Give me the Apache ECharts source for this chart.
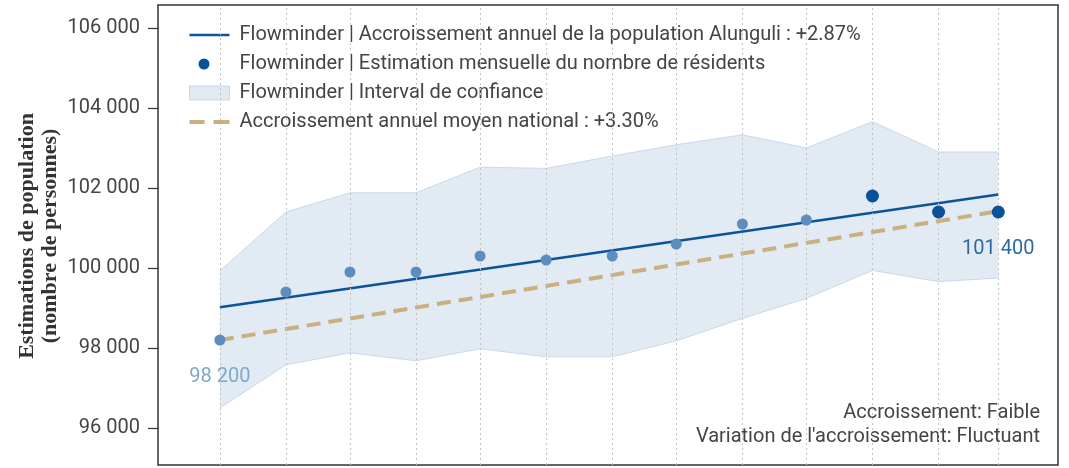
<!DOCTYPE html>
<html>
<head>
<meta charset="utf-8">
<script src="https://cdn.jsdelivr.net/npm/echarts@6/dist/echarts.min.js"></script>
<style>
  html, body { margin: 0; padding: 0; background: #fff; }
  #chart { width: 1069px; height: 468px; }
</style>
</head>
<body>
<div id="chart"></div>
<script>
// dates des estimations mensuelles
const dates = ['2021-03-01', '2021-04-01', '2021-05-01', '2021-06-01', '2021-07-01', '2021-08-01',
  '2021-09-01', '2021-10-01', '2021-11-01', '2021-12-01', '2022-01-01', '2022-02-01', '2022-03-01'];
// estimation mensuelle du nombre de residents
const estimates = [98200, 99400, 99900, 99900, 100300, 100200, 100300, 100600, 101100, 101200, 101800, 101400, 101400];
// intervalle de confiance
const ciUpper = [99930, 101400, 101880, 101880, 102520, 102490, 102800, 103080, 103330, 103000, 103660, 102900, 102900];
const ciLower = [96500, 97580, 97880, 97680, 97980, 97780, 97780, 98180, 98740, 99240, 99940, 99660, 99750];
// tendances (debut, fin)
const trendDates = ['2021-03-01', '2022-03-01'];
const trendLocal = [99020, 101840];
const trendNational = [98200, 101420];

const names = {
  trend: 'Flowminder | Accroissement annuel de la population Alunguli : +2.87%',
  est: 'Flowminder | Estimation mensuelle du nombre de résidents',
  ci: 'Flowminder | Interval de confiance',
  nat: 'Accroissement annuel moyen national : +3.30%'
};

const fmt = v => String(v).replace(/\B(?=(\d{3})+(?!\d))/g, ' ');
const font = 'Roboto';

const chart = echarts.init(document.getElementById('chart'));

const estData = estimates.map((v, i) => {
  const dark = i >= estimates.length - 3;
  const item = {
    value: [dates[i], v],
    symbolSize: dark ? 13 : 11,
    itemStyle: { color: dark ? '#0b5199' : '#5d8dbe' }
  };
  if (i === 0) {
    item.label = { show: true, position: 'bottom', distance: 21, color: '#80a7cb', formatter: p => fmt(p.value[1]) };
  }
  if (i === estimates.length - 1) {
    item.label = { show: true, position: 'bottom', distance: 20, color: '#2d6aa3', formatter: p => fmt(p.value[1]) };
  }
  return item;
});

const option = {
  animation: false,
  backgroundColor: '#fff',
  textStyle: { fontFamily: font },
  grid: { left: 158, top: 5, right: 11, bottom: 3, show: true, borderColor: '#333', borderWidth: 1.5, backgroundColor: 'transparent' },
  legend: {
    orient: 'vertical',
    left: 184,
    top: 20,
    itemWidth: 40,
    itemHeight: 14,
    itemGap: 9,
    textStyle: { fontFamily: font, fontSize: 20, color: '#444', lineHeight: 20, padding: [0, 0, 0, 5] },
    data: [
      { name: names.trend, icon: 'path://M0,0 L40,0 L40,2.5 L0,2.5 Z', itemStyle: { color: '#0c5499' } },
      { name: names.est, icon: 'path://M0,0 m-20,0 a5.5,5.5 0 1,0 11,0 a5.5,5.5 0 1,0 -11,0 Z M-29,-7 L-29,-7 M11,7 L11,7', itemStyle: { color: '#0b5199' } },
      { name: names.ci, icon: 'rect', itemStyle: { color: '#e1e9f3', borderColor: '#c8d7e8', borderWidth: 1 } },
      { name: names.nat, icon: 'path://M0,0 L15,0 L15,4 L0,4 Z M24,0 L40,0 L40,4 L24,4 Z', itemStyle: { color: '#c9b07f' } }
    ]
  },
  xAxis: {
    type: 'time',
    min: '2021-01-31',
    max: '2022-03-29',
    axisLabel: { show: false },
    axisTick: { show: false },
    axisLine: { show: false },
    splitLine: { show: false }
  },
  yAxis: {
    type: 'value',
    min: 95075,
    max: 106575,
    splitNumber: 6,
    axisLine: { show: false },
    axisTick: { show: true, length: 10, lineStyle: { color: '#333', width: 1.2 } },
    axisLabel: {
      margin: 18, fontSize: 20, color: '#444', fontFamily: font,
      showMinLabel: false, showMaxLabel: false,
      formatter: v => fmt(v)
    },
    splitLine: { show: false }
  },
  graphic: [
    {
      type: 'text', x: 39, y: 236, rotation: Math.PI / 2,
      style: {
        text: 'Estimations de population\n(nombre de personnes)',
        font: 'bold 22px "Liberation Serif", serif', fill: '#333',
        textAlign: 'center', textVerticalAlign: 'middle', lineHeight: 23
      }
    },
    {
      type: 'text', right: 29, top: 401,
      style: {
        text: 'Accroissement: Faible\nVariation de l\'accroissement: Fluctuant',
        font: '20px Roboto', fill: '#444', textAlign: 'right', lineHeight: 24
      }
    }
  ],
  series: [
    {
      name: 'ciLower',
      type: 'line',
      stack: 'ci',
      symbol: 'none',
      lineStyle: { color: '#cad9ea', width: 1 },
      data: dates.map((d, i) => [d, ciLower[i]]),
      markLine: {
        silent: true,
        symbol: 'none',
        label: { show: false },
        lineStyle: { color: '#c2c2c2', type: [2, 3], width: 1 },
        data: dates.map(d => ({ xAxis: d }))
      },
      z: 1
    },
    {
      name: names.ci,
      type: 'line',
      stack: 'ci',
      symbol: 'none',
      lineStyle: { color: '#cad9ea', width: 1 },
      areaStyle: { color: '#e2eaf3', opacity: 1 },
      itemStyle: { color: '#e1e9f3' },
      data: dates.map((d, i) => [d, ciUpper[i] - ciLower[i]]),
      z: 1
    },
    {
      name: names.nat,
      type: 'line',
      symbol: 'none',
      lineStyle: { color: '#c9b07f', width: 4, type: [14, 8] },
      itemStyle: { color: '#c9b07f' },
      data: trendDates.map((d, i) => [d, trendNational[i]]),
      z: 3
    },
    {
      name: names.trend,
      type: 'line',
      symbol: 'none',
      lineStyle: { color: '#0c5499', width: 2.5 },
      itemStyle: { color: '#0c5499' },
      data: trendDates.map((d, i) => [d, trendLocal[i]]),
      z: 4
    },
    {
      name: names.est,
      type: 'scatter',
      itemStyle: { color: '#0b5199', opacity: 1 },
      label: { fontFamily: font, fontSize: 20 },
      data: estData,
      z: 5
    }
  ]
};

chart.setOption(option);
</script>
</body>
</html>
